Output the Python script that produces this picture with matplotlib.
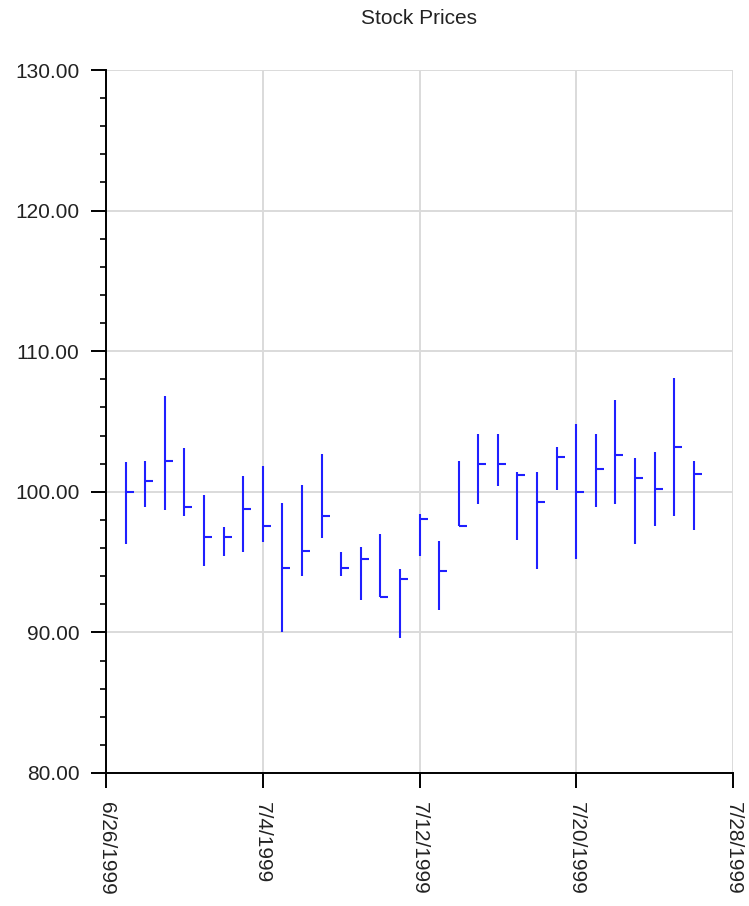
import datetime as dt
import matplotlib
matplotlib.use("Agg")
import matplotlib.pyplot as plt
from matplotlib.ticker import MultipleLocator, FormatStrFormatter

plt.rcParams["font.family"] = ["Liberation Sans", "DejaVu Sans"]

start = dt.date(1999, 6, 27)
dates = [start + dt.timedelta(days=i) for i in range(30)]

highs = [102.1, 102.2, 106.8, 103.1, 99.8, 97.5, 101.1, 101.8, 99.2, 100.5,
         102.7, 95.7, 96.1, 97.0, 94.5, 98.4, 96.5, 102.2, 104.1, 104.1,
         101.4, 101.4, 103.2, 104.8, 104.1, 106.5, 102.4, 102.8, 108.1, 102.2]
lows = [96.3, 98.9, 98.7, 98.3, 94.7, 95.4, 95.7, 96.4, 90.0, 94.0,
        96.7, 94.0, 92.3, 92.5, 89.6, 95.4, 91.6, 97.6, 99.1, 100.4,
        96.6, 94.5, 100.1, 95.2, 98.9, 99.1, 96.3, 97.6, 98.3, 97.3]
closes = [100.0, 100.8, 102.2, 98.9, 96.8, 96.8, 98.8, 97.6, 94.6, 95.8,
          98.3, 94.6, 95.2, 92.5, 93.8, 98.1, 94.4, 97.6, 102.0, 102.0,
          101.2, 99.3, 102.5, 100.0, 101.6, 102.6, 101.0, 100.2, 103.2, 101.3]

tick_dates = [dt.date(1999, 6, 26), dt.date(1999, 7, 4), dt.date(1999, 7, 12),
              dt.date(1999, 7, 20), dt.date(1999, 7, 28)]
tick_labels = ["6/26/1999", "7/4/1999", "7/12/1999", "7/20/1999", "7/28/1999"]

fig = plt.figure(figsize=(7.49, 9.06), dpi=100)
ax = fig.add_axes([106 / 749, 1 - 773 / 906, 627 / 749, 703 / 906])

bar_color = "#1f1fff"
ax.vlines(dates, lows, highs, color=bar_color, linewidth=1.5)
ax.plot(dates, closes, linestyle="none", marker=1, markersize=6,
        markeredgewidth=1.5, color=bar_color)

ax.set_xlim(tick_dates[0], tick_dates[-1])
ax.set_ylim(80, 130)

ax.set_xticks(tick_dates)
ax.set_xticklabels(tick_labels, rotation=270, va="top", ha="center", fontsize=15)
ax.yaxis.set_major_locator(MultipleLocator(10))
ax.yaxis.set_minor_locator(MultipleLocator(2))
ax.yaxis.set_major_formatter(FormatStrFormatter("%.2f"))
for lab in ax.get_yticklabels():
    lab.set_fontsize(15)
    lab.set_color("#222222")
for lab in ax.get_xticklabels():
    lab.set_color("#222222")

ax.grid(True, which="major", color="#dadada", linewidth=1.4)
ax.set_axisbelow(True)
ax.spines["top"].set_visible(False)
ax.spines["right"].set_visible(False)
for side in ("left", "bottom"):
    ax.spines[side].set_linewidth(1.4)
ax.tick_params(which="major", length=11, width=1.4, pad=8)
ax.tick_params(which="minor", length=4.5, width=1.2)
ax.tick_params(axis="x", which="both", pad=10)

fig.text(419 / 749, 1 - 19 / 906, "Stock Prices",
         ha="center", va="center", fontsize=15, color="#222222")

fig.savefig("out.png", dpi=100)
